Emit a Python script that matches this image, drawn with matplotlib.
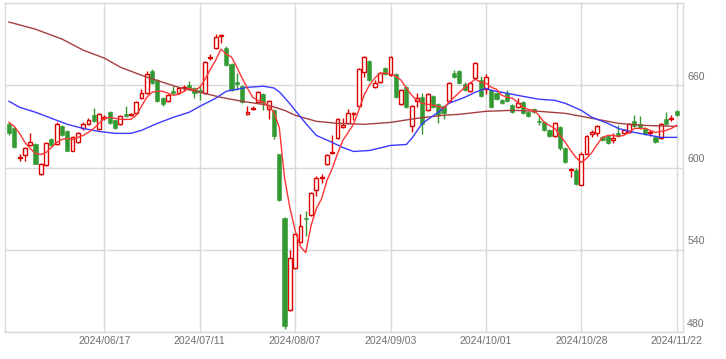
import matplotlib

matplotlib.use("Agg")
import matplotlib.pyplot as plt
import numpy as np

DATES = ["2024/06/17", "2024/07/11", "2024/08/07", "2024/09/03",
         "2024/10/01", "2024/10/28", "2024/11/22"]
DATE_IDX = [18, 36, 54, 72, 90, 108, 126]

OPEN = [631.5, 628.5, 607.0, 608.8, 616.1, 616.8, 595.6, 601.5, 620.5, 616.8,
        630.0, 626.3, 612.4, 618.3, 628.5, 631.5, 638.1, 627.8, 636.3, 640.3,
        634.4, 631.5, 638.8, 638.6, 639.5, 650.5, 654.2, 670.2, 663.7, 650.5,
        648.3, 655.6, 654.2, 658.3, 660.0, 657.8, 656.3, 654.2, 680.2, 687.1,
        696.0, 687.1, 675.4, 662.2, 659.3, 638.8, 642.4, 647.6, 653.4, 642.4,
        641.7, 609.5, 563.4, 496.1, 526.8, 545.9, 563.1, 565.6, 583.9, 592.5,
        602.2, 610.7, 621.2, 629.3, 632.2, 638.8, 644.6, 669.5, 677.5, 658.5,
        662.2, 672.4, 667.3, 668.1, 646.1, 658.5, 630.0, 648.3, 651.2, 641.7,
        651.9, 646.1, 644.6, 648.3, 668.8, 670.2, 660.7, 655.6, 665.1, 663.7,
        657.1, 656.3, 654.2, 649.0, 654.2, 645.4, 643.9, 647.6, 640.3, 642.4,
        633.7, 632.9, 627.1, 622.7, 629.3, 613.9, 598.3, 598.5, 587.6, 610.2,
        624.2, 624.9, 622.0, 622.7, 619.8, 624.9, 624.9, 625.6, 633.7, 631.5,
        628.5, 625.4, 622.0, 621.2, 635.1, 635.7, 641.0]
HIGH = [633.0, 629.3, 610.0, 614.6, 624.9, 617.6, 603.0, 618.5, 621.2, 633.0,
        631.0, 627.0, 622.7, 625.6, 633.0, 635.9, 643.2, 639.5, 638.1, 641.0,
        635.0, 638.1, 644.6, 639.5, 648.3, 657.1, 670.2, 671.7, 664.4, 651.2,
        653.4, 659.3, 658.5, 660.0, 662.9, 658.5, 660.0, 677.5, 682.7, 697.3,
        697.3, 688.5, 676.1, 668.8, 660.0, 644.6, 644.6, 655.6, 654.2, 649.0,
        642.4, 610.2, 564.1, 540.0, 552.4, 566.3, 568.5, 582.4, 594.1, 595.6,
        609.5, 623.4, 635.9, 635.9, 642.4, 640.3, 672.4, 681.2, 678.3, 663.7,
        669.5, 673.1, 681.2, 668.8, 657.1, 659.3, 645.4, 654.2, 654.2, 654.2,
        652.7, 646.8, 645.4, 662.2, 671.0, 671.0, 662.2, 662.2, 676.8, 666.6,
        668.1, 657.1, 654.9, 649.8, 656.3, 646.1, 650.5, 648.3, 641.0, 643.2,
        638.1, 633.7, 627.8, 632.9, 630.0, 614.6, 600.0, 599.3, 611.0, 623.4,
        627.1, 630.7, 622.7, 623.4, 624.9, 630.7, 627.8, 632.2, 638.1, 637.3,
        629.3, 627.1, 622.7, 632.2, 640.3, 638.1, 641.7]
LOW = [623.4, 613.9, 605.0, 604.5, 615.4, 602.2, 594.2, 600.8, 615.5, 616.1,
       622.7, 611.7, 611.7, 617.6, 627.1, 630.7, 632.9, 627.1, 634.4, 631.5,
       627.8, 630.7, 636.6, 637.3, 638.8, 649.8, 653.4, 660.7, 647.6, 644.6,
       647.6, 653.4, 653.4, 655.6, 656.3, 650.5, 649.0, 653.4, 678.3, 686.4,
       690.7, 673.9, 655.6, 656.3, 646.8, 638.1, 641.7, 646.8, 641.7, 635.1,
       620.5, 575.9, 482.2, 495.4, 526.1, 545.2, 550.2, 564.9, 579.5, 589.0,
       601.5, 609.5, 620.5, 628.5, 631.5, 634.4, 643.9, 665.9, 662.9, 657.8,
       661.5, 667.3, 666.6, 650.5, 645.4, 643.2, 625.6, 643.9, 624.2, 641.0,
       643.2, 632.2, 635.1, 647.6, 665.1, 660.7, 655.6, 654.9, 664.4, 651.2,
       653.4, 643.2, 649.0, 646.1, 647.6, 639.5, 643.2, 638.8, 636.6, 639.5,
       630.7, 626.3, 622.0, 622.0, 613.1, 603.0, 593.4, 587.6, 586.9, 609.5,
       622.0, 622.7, 619.0, 616.8, 617.6, 622.0, 624.2, 624.9, 629.3, 627.8,
       623.4, 622.7, 617.6, 620.5, 630.7, 633.7, 637.3]
CLOSE = [624.9, 614.6, 608.0, 613.9, 618.3, 602.9, 602.2, 617.6, 616.1, 631.5,
         623.4, 612.4, 622.0, 624.9, 631.5, 634.4, 633.7, 638.8, 636.8, 632.2,
         628.5, 637.3, 637.3, 638.9, 647.6, 654.2, 668.1, 661.5, 648.3, 646.1,
         652.7, 654.2, 657.8, 658.6, 657.1, 654.2, 654.9, 676.8, 680.6, 695.1,
         696.6, 674.6, 656.3, 660.7, 647.6, 640.3, 643.2, 654.9, 646.8, 648.3,
         622.7, 576.6, 484.4, 534.2, 551.7, 557.6, 562.3, 581.7, 592.7, 593.0,
         608.8, 611.2, 635.1, 630.7, 639.5, 639.5, 671.7, 680.5, 663.7, 661.5,
         668.8, 668.1, 680.5, 651.2, 656.3, 643.9, 644.6, 650.5, 631.5, 653.4,
         643.9, 638.1, 639.5, 661.5, 665.9, 661.5, 656.3, 661.5, 676.1, 651.9,
         665.9, 643.9, 649.8, 646.8, 648.3, 640.3, 646.8, 639.5, 637.3, 640.3,
         632.9, 627.1, 622.7, 632.2, 613.9, 603.7, 598.7, 588.3, 610.2, 622.7,
         625.6, 630.0, 619.8, 617.6, 621.2, 622.7, 627.1, 631.5, 630.0, 628.5,
         624.2, 625.8, 618.3, 631.5, 631.5, 636.1, 638.1]

# short moving average, one value per session
MA_SHORT = [632.9, 630.0, 624.9, 618.3, 613.9, 610.2, 609.5, 611.0, 614.6, 618.3,
            620.5, 621.2, 620.5, 622.0, 623.4, 625.6, 628.5, 632.2, 635.9, 636.6,
            635.9, 635.1, 635.1, 635.1, 638.1, 644.6, 651.2, 654.9, 655.6, 655.6,
            654.2, 652.7, 653.4, 655.6, 657.8, 656.3, 658.5, 664.4, 671.7, 678.3,
            686.4, 682.7, 680.5, 673.2, 665.1, 657.8, 651.2, 649.0, 647.6, 644.6,
            640.3, 629.3, 592.5, 570.7, 554.0, 542.3, 537.9, 557.6, 570.0, 577.3,
            590.5, 599.3, 610.2, 619.8, 625.6, 631.5, 641.7, 652.7, 660.0, 665.1,
            668.8, 668.8, 668.1, 666.6, 663.7, 657.8, 652.7, 649.0, 646.8, 646.1,
            645.4, 644.6, 643.2, 647.6, 651.2, 654.9, 658.5, 661.5, 664.4, 662.2,
            661.5, 658.5, 657.1, 652.7, 651.2, 650.5, 647.6, 643.9, 642.4, 641.7,
            638.1, 632.9, 630.7, 628.5, 623.4, 618.3, 612.4, 607.3, 603.7, 606.6,
            611.0, 616.8, 622.0, 623.4, 623.4, 622.7, 623.4, 625.6, 628.5, 628.5,
            628.5, 627.1, 625.6, 626.3, 627.1, 628.5, 630.7]

# mid moving average, read at selected sessions
MA_MID_IDX = [0, 2, 5, 8, 11, 14, 17, 20, 23, 25, 28, 31, 34, 36, 39, 41, 45,
              48, 50, 51, 52, 53, 54, 56, 58, 61, 63, 65, 68, 72, 75, 76, 78, 81,
              83, 86, 88, 90, 91, 93, 95, 98, 100, 103, 105, 108, 110, 113, 115,
              118, 120, 123, 126]
MA_MID = [648.3, 643.9, 640.3, 635.9, 631.5, 628.5, 626.3, 624.9, 624.9, 627.1,
          632.2, 636.6, 640.3, 644.6, 650.5, 655.6, 658.5, 659.3, 658.0, 655.2,
          651.0, 646.5, 641.7, 632.2, 623.4, 618.3, 614.6, 611.7, 612.4, 616.1,
          616.8, 621.2, 632.2, 640.3, 646.8, 651.2, 654.9, 657.8, 656.3, 654.9,
          653.4, 651.2, 649.8, 649.0, 646.8, 641.7, 636.6, 632.2, 628.5, 625.6,
          624.2, 622.0, 622.0]

# long moving average, read at selected sessions
MA_LONG_IDX = [0, 5, 10, 14, 18, 21, 25, 29, 32, 36, 40, 44, 49, 52, 54, 58,
               62, 67, 72, 77, 82, 85, 90, 95, 100, 105, 110, 115, 120, 126]
MA_LONG = [706.1, 700.9, 693.7, 685.6, 679.8, 673.2, 667.3, 662.2, 658.5, 654.9,
           651.2, 648.3, 645.4, 641.7, 638.1, 633.7, 632.2, 631.5, 632.9, 635.9,
           638.1, 638.8, 641.0, 641.7, 641.0, 639.5, 635.9, 632.2, 630.7, 630.0]

UP_COLOR = "#e00000"
DOWN_COLOR = "#339933"
GRID_COLOR = "#d9d9d9"
TEXT_COLOR = "#707070"

plt.rcParams["font.family"] = ["Liberation Sans", "DejaVu Sans"]

fig = plt.figure(figsize=(7.26, 3.59), dpi=100)
ax = fig.add_axes([0.0062, 0.0752, 0.9346, 0.9164])

x = np.arange(len(OPEN))
o = np.array(OPEN)
c = np.array(CLOSE)
hi = np.array(HIGH)
lo = np.array(LOW)
up = c >= o

ax.vlines(x[up], lo[up], hi[up], color=UP_COLOR, lw=1.0, zorder=2)
ax.vlines(x[~up], lo[~up], hi[~up], color=DOWN_COLOR, lw=1.0, zorder=2)
ax.bar(x[up], (c - o)[up], bottom=o[up], width=0.72, facecolor="white",
       edgecolor=UP_COLOR, linewidth=1.0, zorder=3)
ax.bar(x[~up], (o - c)[~up], bottom=c[~up], width=0.78, facecolor=DOWN_COLOR,
       edgecolor=DOWN_COLOR, linewidth=0.4, zorder=3)

ax.plot(MA_LONG_IDX, MA_LONG, color="#a63e3e", lw=1.0, zorder=4)
ax.plot(MA_MID_IDX, MA_MID, color="#3a3aff", lw=1.0, zorder=4)
ax.plot(x, MA_SHORT, color="#ff3535", lw=1.0, zorder=5)

ax.set_xlim(-0.85, 127.2)
ax.set_ylim(480, 720)

ax.set_xticks(DATE_IDX)
ax.set_xticklabels(DATES, fontsize=7.6, color=TEXT_COLOR)
ax.set_yticks([480, 540, 600, 660])
ax.set_yticklabels([])
ax.tick_params(length=0, pad=3)
ax.grid(True, color=GRID_COLOR, lw=1.0, zorder=0)
ax.set_axisbelow(True)
for spine in ax.spines.values():
    spine.set_color(GRID_COLOR)
    spine.set_linewidth(1.0)

for val in [480, 540, 600, 660]:
    ax.text(1.006, val + 2.5, f"{val}", transform=ax.get_yaxis_transform(),
            ha="left", va="bottom", fontsize=7.6, color=TEXT_COLOR)

fig.savefig("out.png", dpi=100)
